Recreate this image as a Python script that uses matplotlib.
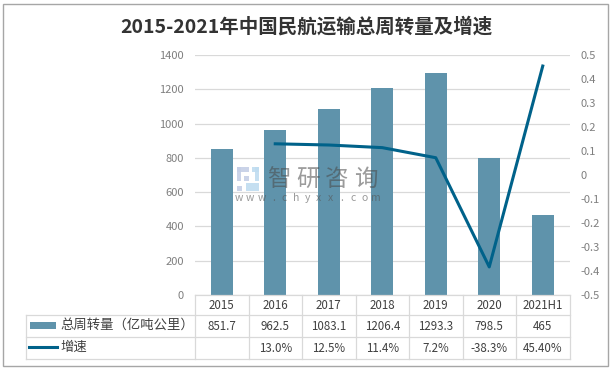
import matplotlib
matplotlib.use('Agg')
import matplotlib.pyplot as plt
from matplotlib.patches import Rectangle
from matplotlib.lines import Line2D

plt.rcParams['font.family'] = ['Noto Sans CJK SC', 'DejaVu Sans']

categories = ['2015', '2016', '2017', '2018', '2019', '2020', '2021H1']
turnover = [851.7, 962.5, 1083.1, 1206.4, 1293.3, 798.5, 465]
growth = [None, 0.130, 0.125, 0.114, 0.072, -0.383, 0.454]
turnover_labels = ['851.7', '962.5', '1083.1', '1206.4', '1293.3', '798.5', '465']
growth_labels = ['', '13.0%', '12.5%', '11.4%', '7.2%', '-38.3%', '45.40%']
left_ticks = [0, 200, 400, 600, 800, 1000, 1200, 1400]
right_ticks = [-0.5, -0.4, -0.3, -0.2, -0.1, 0, 0.1, 0.2, 0.3, 0.4, 0.5]
right_labels = ['-0.5', '-0.4', '-0.3', '-0.2', '-0.1', '0', '0.1', '0.2', '0.3', '0.4', '0.5']
title = '2015-2021年中国民航运输总周转量及增速'
bar_name = '总周转量（亿吨公里）'
line_name = '增速'

W, H = 612, 371
BAR_COLOR = '#5f93ab'
LINE_COLOR = '#00628a'
GRID = '#d9d9d9'
TEXT = '#404040'
TICK = '#7f7f7f'

fig = plt.figure(figsize=(W / 100, H / 100), dpi=100)


def px(x, y):
    return x / W, 1 - y / H


# outer frame
fig.add_artist(Rectangle(px(3.5, 366), 604.5 / W, 362.5 / H, transform=fig.transFigure,
                         fill=False, ec='#a6a6a6', lw=1))

fig.text(306 / W, 1 - 27 / H, title, ha='center', va='center', fontsize=14,
         fontweight='bold', color='#333333')

# plot area
left, right, top, bottom = 195, 569.5, 55, 295
ax = fig.add_axes([left / W, 1 - bottom / H, (right - left) / W, (bottom - top) / H])
x = list(range(len(categories)))
ax.bar(x, turnover, width=0.41, color=BAR_COLOR, zorder=2)
ax.set_xlim(-0.5, len(categories) - 0.5)
ax.set_ylim(0, 1400)
ax.set_yticks(left_ticks)
ax.set_xticks([])
ax.grid(axis='y', color=GRID, lw=0.9, zorder=0)
ax.set_axisbelow(True)
ax.tick_params(axis='y', length=0, pad=8, labelsize=8, labelcolor=TICK)
for s in ax.spines.values():
    s.set_visible(False)

ax2 = ax.twinx()
ax2.plot(x[1:], growth[1:], color=LINE_COLOR, lw=2.2, zorder=3)
ax2.set_ylim(-0.5, 0.5)
ax2.set_yticks(right_ticks)
ax2.set_yticklabels(right_labels)
ax2.tick_params(axis='y', length=0, pad=8, labelsize=8, labelcolor=TICK)
for s in ax2.spines.values():
    s.set_visible(False)

# data table under the axis
tr = ax.get_xaxis_transform()
row_y = [295, 315, 337, 359]
table_left = 26


def ax_y(y):
    return (bottom - y) / (bottom - top)


for i in range(len(categories) + 1):
    ax.add_line(Line2D([i - 0.5, i - 0.5], [ax_y(row_y[0]), ax_y(row_y[3])], transform=tr,
                       color=GRID, lw=0.9, clip_on=False))
for k, y in enumerate(row_y):
    x0 = -0.5 if k == 0 else -0.5 - (left - table_left) / ((right - left) / len(categories))
    ax.add_line(Line2D([x0, len(categories) - 0.5], [ax_y(y), ax_y(y)], transform=tr,
                       color=GRID, lw=0.9, clip_on=False))
fig.add_artist(Line2D([table_left / W, table_left / W], [1 - row_y[1] / H, 1 - row_y[3] / H],
                      color=GRID, lw=0.9))

for i in x:
    ax.text(i, ax_y(305.5), categories[i], transform=tr, ha='center', va='center',
            fontsize=8.3, color=TEXT, clip_on=False)
    ax.text(i, ax_y(326.5), turnover_labels[i], transform=tr, ha='center', va='center',
            fontsize=8.3, color=TEXT, clip_on=False)
    ax.text(i, ax_y(348), growth_labels[i], transform=tr, ha='center', va='center',
            fontsize=8.3, color=TEXT, clip_on=False)

# legend keys in the table
fig.add_artist(Rectangle(px(30, 329), 26 / W, 7 / H, transform=fig.transFigure,
                         color=BAR_COLOR, lw=0))
fig.add_artist(Line2D([29 / W, 57 / W], [1 - 347 / H, 1 - 347 / H], color=LINE_COLOR, lw=2.2))
fig.text(60 / W, 1 - 325 / H, bar_name, ha='left', va='center', fontsize=9.6, color=TEXT)
fig.text(60 / W, 1 - 347 / H, line_name, ha='left', va='center', fontsize=9.6, color=TEXT)

# watermark
for cx, ch in zip([279, 308, 337, 366], '智研咨询'):
    fig.text(cx / W, 1 - 179 / H, ch, ha='center', va='center', fontsize=17,
             color='#4a4a4a', alpha=0.55, zorder=10)
for i, ch in enumerate('www.chyxx.com'):
    fig.text((239 + i * 11.4) / W, 1 - 198 / H, ch, ha='center', va='center', fontsize=7.5,
             color='#555555', alpha=0.6, zorder=10)
for bx, by, bw, bh, col in [(237, 167, 12, 5, '#c5cfe6'), (237, 167, 4, 14, '#c5cfe6'),
                            (244, 176, 5, 5, '#c5cfe6'), (237, 186, 5, 5, '#c5cfe6'),
                            (252, 167, 7, 5, '#bfdcf0'), (255, 167, 4, 14, '#bfdcf0'),
                            (246, 183, 13, 8, '#bfdcf0')]:
    fig.add_artist(Rectangle(px(bx, by + bh), bw / W, bh / H, transform=fig.transFigure,
                             color=col, lw=0, alpha=0.9, zorder=10))

fig.savefig('out.png', dpi=100)
plt.close(fig)
